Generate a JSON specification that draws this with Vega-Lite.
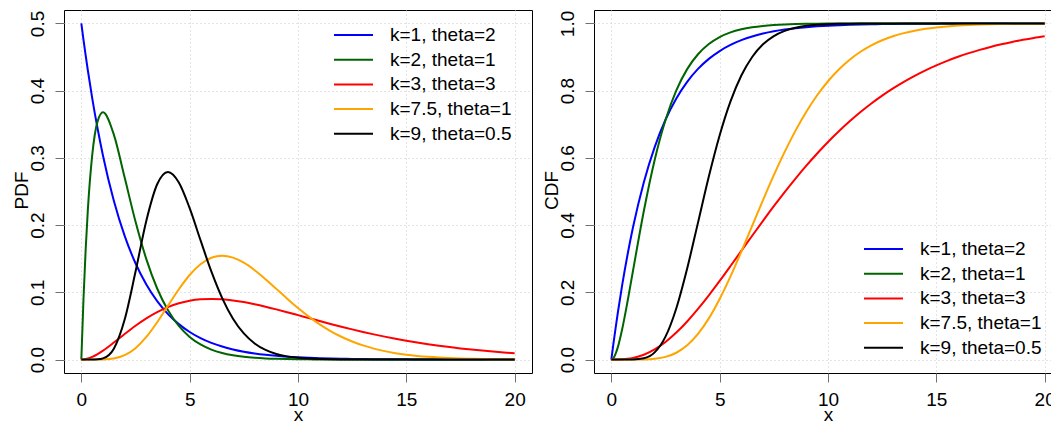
{
"$schema":"https://vega.github.io/schema/vega-lite/v6.json",
"background":"white",
"padding":{"left":11,"top":9,"right":0,"bottom":0},
"config":{
"font":"Liberation Sans",
"view":{"stroke":"black","strokeWidth":1},
"axis":{"domain":false,"tickColor":"#707070","tickSize":9,"tickWidth":1,"labelFontSize":19,"labelColor":"black","labelFont":"Liberation Sans","titleFont":"Liberation Sans","titleFontSize":19,"titleFontWeight":"normal","titleColor":"black","gridColor":"#C8C8C8","gridDash":[1,3],"gridWidth":1},
"legend":{"symbolType":"stroke","symbolSize":1521,"symbolStrokeWidth":2,"labelFontSize":19,"labelFont":"Liberation Sans","labelColor":"black","padding":0,"rowPadding":4.7,"labelOffset":16,"clipHeight":20,"symbolOpacity":1}
},
"data":{"values":[
{"s":"k=1, theta=2","x":0,"p":0.5,"c":0},
{"s":"k=1, theta=2","x":0.1,"p":0.475615,"c":0.048771},
{"s":"k=1, theta=2","x":0.2,"p":0.452419,"c":0.095163},
{"s":"k=1, theta=2","x":0.3,"p":0.430354,"c":0.139292},
{"s":"k=1, theta=2","x":0.5,"p":0.3894,"c":0.221199},
{"s":"k=1, theta=2","x":0.75,"p":0.343645,"c":0.312711},
{"s":"k=1, theta=2","x":1,"p":0.303265,"c":0.393469},
{"s":"k=1, theta=2","x":1.5,"p":0.236184,"c":0.527633},
{"s":"k=1, theta=2","x":2,"p":0.18394,"c":0.632121},
{"s":"k=1, theta=2","x":2.5,"p":0.143253,"c":0.713495},
{"s":"k=1, theta=2","x":3,"p":0.111565,"c":0.77687},
{"s":"k=1, theta=2","x":3.5,"p":0.086887,"c":0.826226},
{"s":"k=1, theta=2","x":4,"p":0.067668,"c":0.864665},
{"s":"k=1, theta=2","x":4.5,"p":0.0527,"c":0.894601},
{"s":"k=1, theta=2","x":5,"p":0.041042,"c":0.917915},
{"s":"k=1, theta=2","x":5.5,"p":0.031964,"c":0.936072},
{"s":"k=1, theta=2","x":6,"p":0.024894,"c":0.950213},
{"s":"k=1, theta=2","x":6.5,"p":0.019387,"c":0.961226},
{"s":"k=1, theta=2","x":7,"p":0.015099,"c":0.969803},
{"s":"k=1, theta=2","x":7.5,"p":0.011759,"c":0.976482},
{"s":"k=1, theta=2","x":8,"p":0.009158,"c":0.981684},
{"s":"k=1, theta=2","x":8.5,"p":0.007132,"c":0.985736},
{"s":"k=1, theta=2","x":9,"p":0.005554,"c":0.988891},
{"s":"k=1, theta=2","x":9.5,"p":0.004326,"c":0.991348},
{"s":"k=1, theta=2","x":10,"p":0.003369,"c":0.993262},
{"s":"k=1, theta=2","x":10.5,"p":0.002624,"c":0.994752},
{"s":"k=1, theta=2","x":11,"p":0.002044,"c":0.995913},
{"s":"k=1, theta=2","x":11.5,"p":0.001592,"c":0.996817},
{"s":"k=1, theta=2","x":12,"p":0.00124,"c":0.997521},
{"s":"k=1, theta=2","x":12.5,"p":0.000965,"c":0.99807},
{"s":"k=1, theta=2","x":13,"p":0.000752,"c":0.998497},
{"s":"k=1, theta=2","x":13.5,"p":0.000586,"c":0.998829},
{"s":"k=1, theta=2","x":14,"p":0.000456,"c":0.999088},
{"s":"k=1, theta=2","x":14.5,"p":0.000355,"c":0.99929},
{"s":"k=1, theta=2","x":15,"p":0.000277,"c":0.999447},
{"s":"k=1, theta=2","x":15.5,"p":0.000216,"c":0.999569},
{"s":"k=1, theta=2","x":16,"p":0.000168,"c":0.999665},
{"s":"k=1, theta=2","x":16.5,"p":0.000131,"c":0.999739},
{"s":"k=1, theta=2","x":17,"p":0.000102,"c":0.999797},
{"s":"k=1, theta=2","x":17.5,"p":0.000079,"c":0.999842},
{"s":"k=1, theta=2","x":18,"p":0.000062,"c":0.999877},
{"s":"k=1, theta=2","x":18.5,"p":0.000048,"c":0.999904},
{"s":"k=1, theta=2","x":19,"p":0.000037,"c":0.999925},
{"s":"k=1, theta=2","x":19.5,"p":0.000029,"c":0.999942},
{"s":"k=1, theta=2","x":20,"p":0.000023,"c":0.999955},
{"s":"k=2, theta=1","x":0,"p":0,"c":0},
{"s":"k=2, theta=1","x":0.1,"p":0.090484,"c":0.004679},
{"s":"k=2, theta=1","x":0.2,"p":0.163746,"c":0.017523},
{"s":"k=2, theta=1","x":0.3,"p":0.222245,"c":0.036937},
{"s":"k=2, theta=1","x":0.5,"p":0.303265,"c":0.090204},
{"s":"k=2, theta=1","x":0.75,"p":0.354275,"c":0.173358},
{"s":"k=2, theta=1","x":1,"p":0.367879,"c":0.264241},
{"s":"k=2, theta=1","x":1.5,"p":0.334695,"c":0.442175},
{"s":"k=2, theta=1","x":2,"p":0.27067,"c":0.593994},
{"s":"k=2, theta=1","x":2.5,"p":0.205212,"c":0.712703},
{"s":"k=2, theta=1","x":3,"p":0.149361,"c":0.800852},
{"s":"k=2, theta=1","x":3.5,"p":0.10569,"c":0.864113},
{"s":"k=2, theta=1","x":4,"p":0.073263,"c":0.90842},
{"s":"k=2, theta=1","x":4.5,"p":0.04999,"c":0.9389},
{"s":"k=2, theta=1","x":5,"p":0.03369,"c":0.959572},
{"s":"k=2, theta=1","x":5.5,"p":0.022478,"c":0.973434},
{"s":"k=2, theta=1","x":6,"p":0.014873,"c":0.982647},
{"s":"k=2, theta=1","x":6.5,"p":0.00977,"c":0.988727},
{"s":"k=2, theta=1","x":7,"p":0.006384,"c":0.992704},
{"s":"k=2, theta=1","x":7.5,"p":0.004148,"c":0.9953},
{"s":"k=2, theta=1","x":8,"p":0.00268,"c":0.996985},
{"s":"k=2, theta=1","x":8.5,"p":0.001726,"c":0.998071},
{"s":"k=2, theta=1","x":9,"p":0.001111,"c":0.998766},
{"s":"k=2, theta=1","x":9.5,"p":0.000711,"c":0.999214},
{"s":"k=2, theta=1","x":10,"p":0.000454,"c":0.999501},
{"s":"k=2, theta=1","x":10.5,"p":0.000289,"c":0.999683},
{"s":"k=2, theta=1","x":11,"p":0.000184,"c":0.9998},
{"s":"k=2, theta=1","x":11.5,"p":0.000116,"c":0.999874},
{"s":"k=2, theta=1","x":12,"p":0.000074,"c":0.99992},
{"s":"k=2, theta=1","x":12.5,"p":0.000047,"c":0.99995},
{"s":"k=2, theta=1","x":13,"p":0.00003,"c":0.99997},
{"s":"k=2, theta=1","x":13.5,"p":0.00002,"c":0.99998},
{"s":"k=2, theta=1","x":14,"p":0.00001,"c":0.99999},
{"s":"k=2, theta=1","x":14.5,"p":0.000007,"c":0.999993},
{"s":"k=2, theta=1","x":15,"p":0.000005,"c":0.999995},
{"s":"k=2, theta=1","x":15.5,"p":0,"c":1},
{"s":"k=2, theta=1","x":16,"p":0,"c":1},
{"s":"k=2, theta=1","x":16.5,"p":0,"c":1},
{"s":"k=2, theta=1","x":17,"p":0,"c":1},
{"s":"k=2, theta=1","x":17.5,"p":0,"c":1},
{"s":"k=2, theta=1","x":18,"p":0,"c":1},
{"s":"k=2, theta=1","x":18.5,"p":0,"c":1},
{"s":"k=2, theta=1","x":19,"p":0,"c":1},
{"s":"k=2, theta=1","x":19.5,"p":0,"c":1},
{"s":"k=2, theta=1","x":20,"p":0,"c":1},
{"s":"k=3, theta=3","x":0,"p":0,"c":0},
{"s":"k=3, theta=3","x":0.1,"p":0.000179,"c":0.000006},
{"s":"k=3, theta=3","x":0.2,"p":0.000693,"c":0.000047},
{"s":"k=3, theta=3","x":0.3,"p":0.001508,"c":0.000155},
{"s":"k=3, theta=3","x":0.5,"p":0.003919,"c":0.000684},
{"s":"k=3, theta=3","x":0.75,"p":0.008113,"c":0.002161},
{"s":"k=3, theta=3","x":1,"p":0.013269,"c":0.004818},
{"s":"k=3, theta=3","x":1.5,"p":0.025272,"c":0.014388},
{"s":"k=3, theta=3","x":2,"p":0.038031,"c":0.030212},
{"s":"k=3, theta=3","x":2.5,"p":0.050301,"c":0.052335},
{"s":"k=3, theta=3","x":3,"p":0.061313,"c":0.080302},
{"s":"k=3, theta=3","x":3.5,"p":0.070642,"c":0.113367},
{"s":"k=3, theta=3","x":4,"p":0.078103,"c":0.150632},
{"s":"k=3, theta=3","x":4.5,"p":0.083674,"c":0.191154},
{"s":"k=3, theta=3","x":5,"p":0.087443,"c":0.233996},
{"s":"k=3, theta=3","x":5.5,"p":0.089562,"c":0.278319},
{"s":"k=3, theta=3","x":6,"p":0.090223,"c":0.323325},
{"s":"k=3, theta=3","x":6.5,"p":0.089632,"c":0.368334},
{"s":"k=3, theta=3","x":7,"p":0.087993,"c":0.412781},
{"s":"k=3, theta=3","x":7.5,"p":0.085505,"c":0.456187},
{"s":"k=3, theta=3","x":8,"p":0.08235,"c":0.498178},
{"s":"k=3, theta=3","x":8.5,"p":0.078694,"c":0.538458},
{"s":"k=3, theta=3","x":9,"p":0.07468,"c":0.57681},
{"s":"k=3, theta=3","x":9.5,"p":0.070435,"c":0.613094},
{"s":"k=3, theta=3","x":10,"p":0.066063,"c":0.647224},
{"s":"k=3, theta=3","x":10.5,"p":0.061652,"c":0.679157},
{"s":"k=3, theta=3","x":11,"p":0.057276,"c":0.708889},
{"s":"k=3, theta=3","x":11.5,"p":0.052991,"c":0.736449},
{"s":"k=3, theta=3","x":12,"p":0.048843,"c":0.761892},
{"s":"k=3, theta=3","x":12.5,"p":0.044861,"c":0.785313},
{"s":"k=3, theta=3","x":13,"p":0.041073,"c":0.806785},
{"s":"k=3, theta=3","x":13.5,"p":0.037493,"c":0.826422},
{"s":"k=3, theta=3","x":14,"p":0.034133,"c":0.844311},
{"s":"k=3, theta=3","x":14.5,"p":0.030992,"c":0.860589},
{"s":"k=3, theta=3","x":15,"p":0.028075,"c":0.875347},
{"s":"k=3, theta=3","x":15.5,"p":0.025377,"c":0.888693},
{"s":"k=3, theta=3","x":16,"p":0.022888,"c":0.900758},
{"s":"k=3, theta=3","x":16.5,"p":0.020605,"c":0.911619},
{"s":"k=3, theta=3","x":17,"p":0.018517,"c":0.921381},
{"s":"k=3, theta=3","x":17.5,"p":0.016606,"c":0.930175},
{"s":"k=3, theta=3","x":18,"p":0.014874,"c":0.938025},
{"s":"k=3, theta=3","x":18.5,"p":0.013297,"c":0.945073},
{"s":"k=3, theta=3","x":19,"p":0.011873,"c":0.951357},
{"s":"k=3, theta=3","x":19.5,"p":0.010584,"c":0.956977},
{"s":"k=3, theta=3","x":20,"p":0.00943,"c":0.961951},
{"s":"k=7.5, theta=1","x":0,"p":0,"c":0},
{"s":"k=7.5, theta=1","x":0.1,"p":0,"c":0},
{"s":"k=7.5, theta=1","x":0.2,"p":0,"c":0},
{"s":"k=7.5, theta=1","x":0.3,"p":0,"c":0},
{"s":"k=7.5, theta=1","x":0.5,"p":0.000004,"c":0},
{"s":"k=7.5, theta=1","x":0.75,"p":0.00004,"c":0.000004},
{"s":"k=7.5, theta=1","x":1,"p":0.000197,"c":0.00003},
{"s":"k=7.5, theta=1","x":1.5,"p":0.001664,"c":0.000402},
{"s":"k=7.5, theta=1","x":2,"p":0.006546,"c":0.002263},
{"s":"k=7.5, theta=1","x":2.5,"p":0.016934,"c":0.007874},
{"s":"k=7.5, theta=1","x":3,"p":0.033595,"c":0.020252},
{"s":"k=7.5, theta=1","x":3.5,"p":0.055498,"c":0.04235},
{"s":"k=7.5, theta=1","x":4,"p":0.080183,"c":0.076218},
{"s":"k=7.5, theta=1","x":4.5,"p":0.104574,"c":0.122482},
{"s":"k=7.5, theta=1","x":5,"p":0.125806,"c":0.180261},
{"s":"k=7.5, theta=1","x":5.5,"p":0.141777,"c":0.247395},
{"s":"k=7.5, theta=1","x":6,"p":0.151385,"c":0.320971},
{"s":"k=7.5, theta=1","x":6.5,"p":0.154487,"c":0.397699},
{"s":"k=7.5, theta=1","x":7,"p":0.151686,"c":0.474468},
{"s":"k=7.5, theta=1","x":7.5,"p":0.144065,"c":0.548581},
{"s":"k=7.5, theta=1","x":8,"p":0.132922,"c":0.617944},
{"s":"k=7.5, theta=1","x":8.5,"p":0.119561,"c":0.681134},
{"s":"k=7.5, theta=1","x":9,"p":0.105146,"c":0.737335},
{"s":"k=7.5, theta=1","x":9.5,"p":0.090631,"c":0.786264},
{"s":"k=7.5, theta=1","x":10,"p":0.076723,"c":0.828066},
{"s":"k=7.5, theta=1","x":10.5,"p":0.063901,"c":0.863171},
{"s":"k=7.5, theta=1","x":11,"p":0.052442,"c":0.8922},
{"s":"k=7.5, theta=1","x":11.5,"p":0.042463,"c":0.915863},
{"s":"k=7.5, theta=1","x":12,"p":0.033963,"c":0.934908},
{"s":"k=7.5, theta=1","x":12.5,"p":0.02686,"c":0.950057},
{"s":"k=7.5, theta=1","x":13,"p":0.021022,"c":0.961977},
{"s":"k=7.5, theta=1","x":13.5,"p":0.016296,"c":0.971263},
{"s":"k=7.5, theta=1","x":14,"p":0.012519,"c":0.978431},
{"s":"k=7.5, theta=1","x":14.5,"p":0.009539,"c":0.983915},
{"s":"k=7.5, theta=1","x":15,"p":0.007212,"c":0.988078},
{"s":"k=7.5, theta=1","x":15.5,"p":0.005414,"c":0.991214},
{"s":"k=7.5, theta=1","x":16,"p":0.004036,"c":0.993562},
{"s":"k=7.5, theta=1","x":16.5,"p":0.00299,"c":0.995306},
{"s":"k=7.5, theta=1","x":17,"p":0.002202,"c":0.996594},
{"s":"k=7.5, theta=1","x":17.5,"p":0.001612,"c":0.997542},
{"s":"k=7.5, theta=1","x":18,"p":0.001175,"c":0.998231},
{"s":"k=7.5, theta=1","x":18.5,"p":0.000851,"c":0.998735},
{"s":"k=7.5, theta=1","x":19,"p":0.000614,"c":0.999098},
{"s":"k=7.5, theta=1","x":19.5,"p":0.000441,"c":0.999359},
{"s":"k=7.5, theta=1","x":20,"p":0.000315,"c":0.999547},
{"s":"k=9, theta=0.5","x":0,"p":0,"c":0},
{"s":"k=9, theta=0.5","x":0.1,"p":0,"c":0},
{"s":"k=9, theta=0.5","x":0.2,"p":0,"c":0},
{"s":"k=9, theta=0.5","x":0.3,"p":0,"c":0},
{"s":"k=9, theta=0.5","x":0.5,"p":0.000018,"c":0.000001},
{"s":"k=9, theta=0.5","x":0.75,"p":0.000284,"c":0.00003},
{"s":"k=9, theta=0.5","x":1,"p":0.001718,"c":0.000237},
{"s":"k=9, theta=0.5","x":1.5,"p":0.016203,"c":0.003803},
{"s":"k=9, theta=0.5","x":2,"p":0.05954,"c":0.021362},
{"s":"k=9, theta=0.5","x":2.5,"p":0.130556,"c":0.068094},
{"s":"k=9, theta=0.5","x":3,"p":0.206516,"c":0.152761},
{"s":"k=9, theta=0.5","x":3.5,"p":0.260754,"c":0.270909},
{"s":"k=9, theta=0.5","x":4,"p":0.279174,"c":0.407452},
{"s":"k=9, theta=0.5","x":4.5,"p":0.263512,"c":0.544348},
{"s":"k=9, theta=0.5","x":5,"p":0.225198,"c":0.667181},
{"s":"k=9, theta=0.5","x":5.5,"p":0.177588,"c":0.768014},
{"s":"k=9, theta=0.5","x":6,"p":0.131046,"c":0.844972},
{"s":"k=9, theta=0.5","x":6.5,"p":0.09146,"c":0.900241},
{"s":"k=9, theta=0.5","x":7,"p":0.06084,"c":0.937977},
{"s":"k=9, theta=0.5","x":7.5,"p":0.038888,"c":0.962555},
{"s":"k=9, theta=0.5","x":8,"p":0.023976,"c":0.978013},
{"s":"k=9, theta=0.5","x":8.5,"p":0.014326,"c":0.987403},
{"s":"k=9, theta=0.5","x":9,"p":0.008326,"c":0.992943},
{"s":"k=9, theta=0.5","x":9.5,"p":0.00472,"c":0.996127},
{"s":"k=9, theta=0.5","x":10,"p":0.002617,"c":0.997915},
{"s":"k=9, theta=0.5","x":10.5,"p":0.001423,"c":0.998895},
{"s":"k=9, theta=0.5","x":11,"p":0.00076,"c":0.99942},
{"s":"k=9, theta=0.5","x":11.5,"p":0.0004,"c":0.9997},
{"s":"k=9, theta=0.5","x":12,"p":0.0002,"c":0.99985},
{"s":"k=9, theta=0.5","x":12.5,"p":0.0001,"c":0.99993},
{"s":"k=9, theta=0.5","x":13,"p":0.00005,"c":0.99997},
{"s":"k=9, theta=0.5","x":13.5,"p":0.00002,"c":0.99999},
{"s":"k=9, theta=0.5","x":14,"p":0.00001,"c":1},
{"s":"k=9, theta=0.5","x":14.5,"p":0,"c":1},
{"s":"k=9, theta=0.5","x":15,"p":0,"c":1},
{"s":"k=9, theta=0.5","x":15.5,"p":0,"c":1},
{"s":"k=9, theta=0.5","x":16,"p":0,"c":1},
{"s":"k=9, theta=0.5","x":16.5,"p":0,"c":1},
{"s":"k=9, theta=0.5","x":17,"p":0,"c":1},
{"s":"k=9, theta=0.5","x":17.5,"p":0,"c":1},
{"s":"k=9, theta=0.5","x":18,"p":0,"c":1},
{"s":"k=9, theta=0.5","x":18.5,"p":0,"c":1},
{"s":"k=9, theta=0.5","x":19,"p":0,"c":1},
{"s":"k=9, theta=0.5","x":19.5,"p":0,"c":1},
{"s":"k=9, theta=0.5","x":20,"p":0,"c":1}
]},
"spacing":62,
"bounds":"flush",
"resolve":{"legend":{"color":"independent"}},
"hconcat":[
{
"width":468,"height":363,
"mark":{"type":"line","interpolate":"monotone","strokeWidth":2,"clip":true},
"encoding":{
"x":{"field":"x","type":"quantitative","scale":{"domain":[-0.8,20.8],"nice":false,"zero":false},
"axis":{"values":[0,5,10,15,20],"title":"x","labelAngle":0,"labelAlign":"center","labelBaseline":"alphabetic","labelPadding":23,"titleX":234,"titleY":47,"titleAlign":"center","titleBaseline":"alphabetic","titleAnchor":null}},
"y":{"field":"p","type":"quantitative","scale":{"domain":[-0.02,0.52],"nice":false,"zero":false},
"axis":{"values":[0,0.1,0.2,0.3,0.4,0.5],"format":".1f","title":"PDF","labelAngle":270,"labelAlign":"center","labelBaseline":"alphabetic","labelPadding":12,"titleAngle":270,"titleX":-37,"titleY":180,"titleAlign":"center","titleBaseline":"alphabetic"}},
"color":{"field":"s","type":"nominal","sort":null,
"scale":{"domain":["k=1, theta=2","k=2, theta=1","k=3, theta=3","k=7.5, theta=1","k=9, theta=0.5"],"range":["#0000FF","#006400","#FF0000","#FFA500","#000000"]},
"legend":{"title":null,"orient":"none","legendX":269,"legendY":15}}
}
},
{
"width":468,"height":363,
"mark":{"type":"line","interpolate":"monotone","strokeWidth":2,"clip":true},
"encoding":{
"x":{"field":"x","type":"quantitative","scale":{"domain":[-0.8,20.8],"nice":false,"zero":false},
"axis":{"values":[0,5,10,15,20],"title":"x","labelAngle":0,"labelAlign":"center","labelBaseline":"alphabetic","labelPadding":23,"titleX":234,"titleY":47,"titleAlign":"center","titleBaseline":"alphabetic","titleAnchor":null}},
"y":{"field":"c","type":"quantitative","scale":{"domain":[-0.04,1.04],"nice":false,"zero":false},
"axis":{"values":[0,0.2,0.4,0.6,0.8,1],"format":".1f","title":"CDF","labelAngle":270,"labelAlign":"center","labelBaseline":"alphabetic","labelPadding":12,"titleAngle":270,"titleX":-37,"titleY":180,"titleAlign":"center","titleBaseline":"alphabetic"}},
"color":{"field":"s","type":"nominal","sort":null,
"scale":{"domain":["k=1, theta=2","k=2, theta=1","k=3, theta=3","k=7.5, theta=1","k=9, theta=0.5"],"range":["#0000FF","#006400","#FF0000","#FFA500","#000000"]},
"legend":{"title":null,"orient":"none","legendX":269,"legendY":229}}
}
}
]
}
